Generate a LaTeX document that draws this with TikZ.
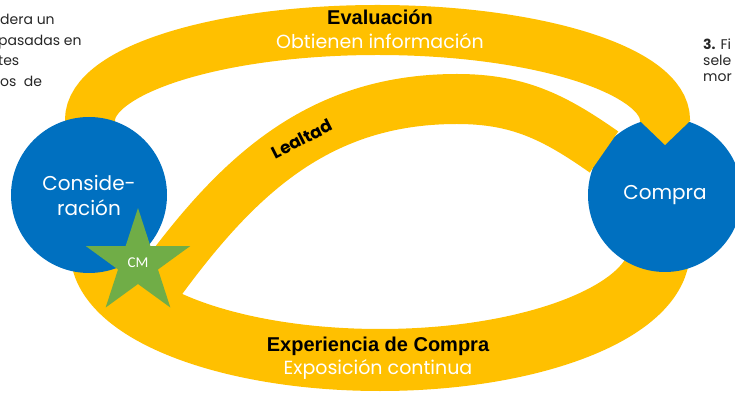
\documentclass[tikz,border=0pt]{standalone}
\usepackage{fontspec}
\setmainfont{Poppins}
\newfontfamily\arialfont{Liberation Sans}
\newfontfamily\calibrifont{Carlito}
\usetikzlibrary{arrows.meta,shapes.geometric}
\definecolor{bandyellow}{HTML}{FFC000}
\definecolor{stageblue}{HTML}{0070C0}
\definecolor{cmgreen}{HTML}{70AD47}
\tikzset{band/.style={draw=bandyellow, line width=50pt},
  stage/.style={circle, fill=stageblue, text=white, inner sep=0pt,
    align=center, font=\fontsize{20}{25}\selectfont},
  title/.style={font=\arialfont\bfseries\fontsize{20}{22}\selectfont},
  sub/.style={text=white, font=\fontsize{19}{21}\selectfont},
  side/.style={anchor=base west, inner sep=0pt, text=black!85,
    font=\fontsize{14}{16}\selectfont}}
\begin{document}
\begin{tikzpicture}[x=1pt, y=1pt]
  \useasboundingbox (0,0) rectangle (735,396);
  \clip (0,0) rectangle (735,396);
  % end points of the bands
  \coordinate (ev-a) at (90,240);
  \coordinate (ev-b) at (90,276);
  \coordinate (ev-tip) at (665,251);
  \coordinate (ex-a) at (659,146);
  \coordinate (le-a) at (140,86);
  \coordinate (le-top) at (457,297);
  \coordinate (le-end) at (604,244);
  % experiencia de compra (under both circles)
  \draw[band, line width=62pt] (ex-a)
    arc[start angle=0, end angle=-180, x radius=279, y radius=110];
  \node[stage, minimum size=154pt] (compra) at (665,201) {Compra};
  % evaluacion
  \draw[band, -{Triangle[length=24pt, width=50pt, line width=0pt]}]
    (ev-a) -- (ev-b) arc[start angle=180, end angle=0, x radius=287.5, y radius=90]
    -- (ev-tip);
  % lealtad
  \draw[band] (le-a) to[out=55, in=180] (le-top) to[out=0, in=145] (le-end);
  \node[stage, minimum size=156pt] (consid) at (89,201) {Conside-\\ración};
  \node[star, star points=5, star point ratio=2.618, minimum size=110pt,
    inner sep=0pt, fill=cmgreen, text=white,
    font=\calibrifont\fontsize{15}{15}\selectfont] (cm) at (138,133) {CM};
  % band labels
  \node[title] (ev-title) at (380,379) {Evaluación};
  \node[sub] (ev-sub) at (380,355) {Obtienen información};
  \node[title] (ex-title) at (378,50) {Experiencia de Compra};
  \node[sub] (ex-sub) at (378,27) {Exposición continua};
  \node[rotate=27, font=\bfseries\fontsize{17}{17}\selectfont] (le-title)
    at (302,257) {Lealtad};
  % cut-off side texts
  \node[side] (left-1) at (0,371) {dera un};
  \node[side] (left-2) at (-2,350) {pasadas en};
  \node[side] (left-3) at (-2,330) {tes};
  \node[side] (left-4) at (0,309) {os~~de};
  \node[side] (right-1) at (703,346) {\textbf{3.} Fi};
  \node[side] (right-2) at (703,330) {sele};
  \node[side] (right-3) at (703,314) {mor};
\end{tikzpicture}
\end{document}
